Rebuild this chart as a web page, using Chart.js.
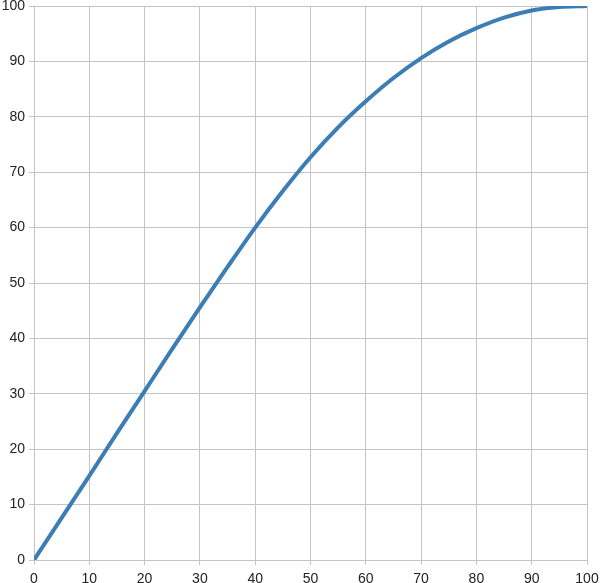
<!DOCTYPE html>
<html>
<head>
<meta charset="utf-8">
<script src="https://cdn.jsdelivr.net/npm/chart.js@4/dist/chart.umd.min.js"></script>
<style>
  html, body { margin: 0; padding: 0; background: #fff; }
  #wrap { width: 600px; height: 583px; }
</style>
</head>
<body>
<div id="wrap"><canvas id="curveChart"></canvas></div>
<script>
// Werte
const xValues = [0, 5, 10, 15, 20, 25, 30, 35, 40, 45, 50, 55, 60, 65, 70, 75, 80, 85, 90, 95, 100];
const yValues = [0, 7.6, 15.2, 22.9, 30.5, 38.1, 45.6, 52.9, 60.0, 66.6, 72.7, 78.1, 82.8, 87.0, 90.6, 93.6, 96.0, 97.9, 99.2, 99.8, 100];
const xTicks = [0, 10, 20, 30, 40, 50, 60, 70, 80, 90, 100];
const yTicks = [0, 10, 20, 30, 40, 50, 60, 70, 80, 90, 100];

const points = xValues.map((x, i) => ({ x: x, y: yValues[i] }));

const gridColor = '#c4c4c4';
const tickFont = { family: '"Liberation Sans", Arial, sans-serif', size: 14 };

new Chart(document.getElementById('curveChart'), {
    type: 'scatter',
    data: {
        datasets: [{
            data: points,
            showLine: true,
            borderColor: '#3b7db4',
            borderWidth: 4,
            pointRadius: 0,
            cubicInterpolationMode: 'monotone',
            fill: false
        }]
    },
    options: {
        responsive: true,
        maintainAspectRatio: false,
        animation: false,
        layout: { padding: 0 },
        plugins: {
            legend: { display: false },
            tooltip: { enabled: false }
        },
        scales: {
            x: {
                type: 'linear',
                min: 0,
                max: 100,
                afterBuildTicks: s => { s.ticks = xTicks.map(v => ({ value: v })); },
                afterFit: s => {
                    s.height = 23;
                    s.paddingLeft = 0;
                    s.paddingRight = 13;
                },
                grid: { color: gridColor, tickLength: 5, tickColor: gridColor },
                border: { color: gridColor },
                ticks: { color: '#222', font: tickFont, padding: 6, maxRotation: 0 }
            },
            y: {
                type: 'linear',
                min: 0,
                max: 100,
                afterBuildTicks: s => { s.ticks = yTicks.map(v => ({ value: v })); },
                afterFit: s => {
                    s.width = 34;
                    s.paddingTop = 6;
                    s.paddingBottom = 0;
                },
                grid: { color: gridColor, tickLength: 5, tickColor: gridColor },
                border: { color: gridColor },
                ticks: { color: '#222', font: tickFont, padding: 4 }
            }
        }
    }
});
</script>
</body>
</html>
